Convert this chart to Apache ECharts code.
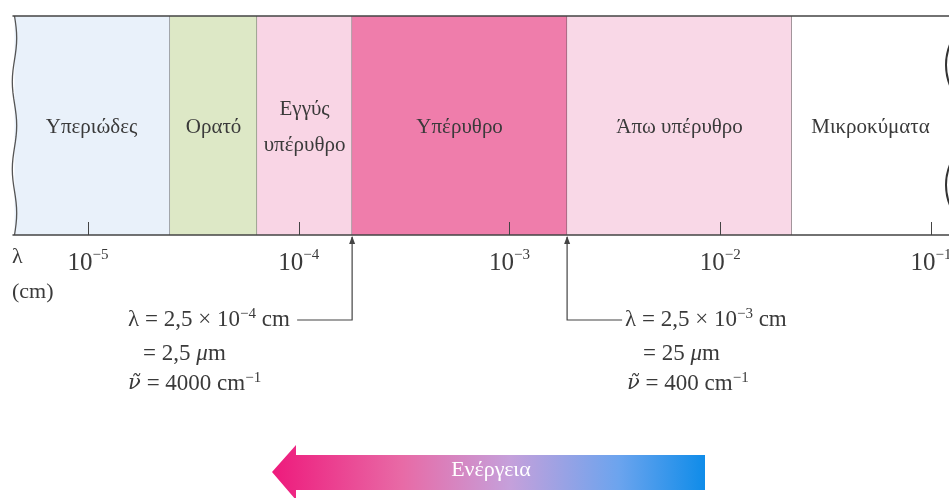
<!DOCTYPE html>
<html><head><meta charset="utf-8">
<script src="https://cdn.jsdelivr.net/npm/echarts@6/dist/echarts.min.js"></script>
<style>html,body{margin:0;padding:0;background:#fff}#c{width:949px;height:498px}</style>
</head><body><div id="c"></div>
<script>
// Band names and their boundaries, in log10(λ / cm) as drawn on the schematic axis
const bandNames = ['Υπεριώδες', 'Ορατό', 'Εγγύς\nυπέρυθρο', 'Υπέρυθρο', 'Άπω υπέρυθρο', 'Μικροκύματα'];
const bandStart = [-5.356, -4.611, -4.198, -3.747, -2.727, -1.660];
const bandEnd   = [-4.611, -4.198, -3.747, -2.727, -1.660, -0.915];
const bandColors = ['#e9f1fa', '#dde8c6', '#f9d5e5', '#ef7dab', '#f9d8e7', '#ffffff'];
// Tick positions (exponents) and labels
const tickExps = [-5, -4, -3, -2, -1];
const tickLabels = ['−5', '−4', '−3', '−2', '−1'];
// Marked boundaries and their annotations
const markerValues = [-3.747, -2.727];
const markerText = [
  ['λ = 2,5 × 10{s|−4} cm', '= 2,5 {i|μ}m', '{v|ν̃} = 4000 cm{s|−1}'],
  ['λ = 2,5 × 10{s|−3} cm', '= 25 {i|μ}m', '{v|ν̃} = 400 cm{s|−1}']
];
const energyLabel = 'Ενέργεια';

const SERIF = '"Liberation Serif", "DejaVu Serif", serif';
const INK = '#3a3a3a';
const richSup = {
  s: { fontSize: 15, fontFamily: SERIF, fill: INK, padding: [0, 0, 12, 0] },
  i: { fontSize: 23, fontFamily: SERIF, fill: INK, fontStyle: 'italic' },
  v: { fontSize: 21, fontFamily: '"DejaVu Serif", serif', fill: INK, fontStyle: 'italic' }
};

const chart = echarts.init(document.getElementById('c'), null, { renderer: 'canvas' });
const xMin = bandStart[0], xMax = bandEnd[bandEnd.length - 1];

chart.setOption({
  animation: false,
  backgroundColor: '#fff',
  grid: { left: 13, right: 0, top: 16, bottom: 263, containLabel: false, outerBoundsMode: 'none' },
  xAxis: [{
    type: 'value', min: xMin, max: xMax, position: 'bottom', z: 10,
    splitLine: { show: false },
    axisLine: { show: true, lineStyle: { color: '#444', width: 1.5 } },
    axisTick: { show: true, inside: true, length: 13, customValues: tickExps, lineStyle: { color: '#444', width: 1 } },
    axisLabel: {
      show: true, customValues: tickExps, margin: 13, hideOverlap: false,
      formatter: function (v) { const i = tickExps.indexOf(v); return '{b|10}{s|' + tickLabels[i] + '}'; },
      rich: {
        b: { fontSize: 25, fontFamily: SERIF, color: INK },
        s: { fontSize: 15, fontFamily: SERIF, color: INK, padding: [0, 0, 16, 0] }
      }
    }
  }, {
    type: 'value', min: xMin, max: xMax, position: 'top', z: 10,
    splitLine: { show: false },
    axisLine: { show: true, lineStyle: { color: '#444', width: 1.5 } },
    axisTick: { show: false }, axisLabel: { show: false }
  }],
  yAxis: { type: 'value', min: 0, max: 1, show: false },
  graphic: [
    { type: 'text', left: 12, top: 246, style: { text: 'λ', font: '22px ' + SERIF, fill: INK } },
    { type: 'text', left: 12, top: 281, style: { text: '(cm)', font: '22px ' + SERIF, fill: INK } },
    { type: 'arc', z: 100, shape: { cx: 1000, cy: 65, r: 54, startAngle: Math.PI * 0.84, endAngle: Math.PI * 1.16 }, style: { stroke: '#333', lineWidth: 2, fill: null } },
    { type: 'arc', z: 100, shape: { cx: 1000, cy: 185, r: 54, startAngle: Math.PI * 0.86, endAngle: Math.PI * 1.14 }, style: { stroke: '#333', lineWidth: 2, fill: null } },
    {
      type: 'polygon',
      shape: { points: [[272, 472], [296, 445], [296, 455], [705, 455], [705, 490], [296, 490], [296, 500]] },
      style: {
        fill: new echarts.graphic.LinearGradient(0, 0, 1, 0, [
          { offset: 0, color: '#ee1a7c' },
          { offset: 0.3, color: '#e86aa6' },
          { offset: 0.55, color: '#c5a0db' },
          { offset: 0.8, color: '#6ca4ee' },
          { offset: 1, color: '#0f8ce9' }
        ])
      }
    },
    { type: 'text', x: 491, y: 470, style: { text: energyLabel, font: '22px ' + SERIF, fill: '#fff', align: 'center', verticalAlign: 'middle' } }
  ],
  series: [{
    type: 'custom', z: 1,
    data: bandStart.map((s, i) => [s, bandEnd[i], i]),
    encode: { x: [0, 1] },
    renderItem: function (params, api) {
      const i = api.value(2);
      const a = api.coord([api.value(0), 1]);
      const b = api.coord([api.value(1), 0]);
      const children = [{
        type: 'rect', shape: { x: a[0], y: a[1], width: b[0] - a[0], height: b[1] - a[1] },
        style: { fill: bandColors[i] }
      }, {
        type: 'text', x: (a[0] + b[0]) / 2, y: (a[1] + b[1]) / 2 + 2,
        style: { text: bandNames[i], font: '21px ' + SERIF, fill: INK, align: 'center', verticalAlign: 'middle', lineHeight: 36 }
      }];
      if (i < bandNames.length - 1) {
        children.push({ type: 'line', shape: { x1: b[0], y1: a[1], x2: b[0], y2: b[1] }, style: { stroke: '#555', lineWidth: 1 } });
      }
      if (i === 0) {
        const pts = [];
        const n = 40;
        for (let k = 0; k <= n; k++) {
          const y = a[1] + (b[1] - a[1]) * k / n;
          pts.push([a[0] + 1.5 + 2.2 * Math.sin(k / n * Math.PI * 5), y]);
        }
        children.push({ type: 'rect', shape: { x: a[0] - 13, y: a[1] - 1, width: 13 + 1.5, height: b[1] - a[1] + 2 }, style: { fill: '#fff' } });
        children.push({ type: 'polyline', shape: { points: pts }, style: { stroke: '#555', lineWidth: 1.3, fill: null } });
      }
      return { type: 'group', children: children };
    }
  }, {
    type: 'custom', z: 3,
    data: markerValues.map((v, i) => [v, i]),
    encode: { x: 0 },
    renderItem: function (params, api) {
      const i = api.value(1);
      const p = api.coord([api.value(0), 0]);
      const x = p[0], yb = p[1];
      const yl = yb + 85;
      const dir = i === 0 ? -1 : 1;
      const xEnd = x + dir * 55;
      const children = [
        { type: 'polyline', shape: { points: [[x, yb + 2], [x, yl], [xEnd, yl]] }, style: { stroke: '#444', lineWidth: 1.2, fill: null } },
        { type: 'polygon', shape: { points: [[x, yb + 1], [x - 3, yb + 9], [x + 3, yb + 9]] }, style: { fill: '#444' } }
      ];
      const lines = markerText[i];
      const lefts = i === 0 ? [x - 224, x - 209, x - 224] : [x + 58, x + 76, x + 60];
      const ys = [yl, yl + 34, yl + 64];
      for (let k = 0; k < 3; k++) {
        children.push({
          type: 'text', x: lefts[k], y: ys[k],
          style: { text: lines[k], font: '23px ' + SERIF, fill: INK, align: 'left', verticalAlign: 'middle', rich: richSup }
        });
      }
      return { type: 'group', children: children };
    }
  }]
});
</script>
</body></html>
